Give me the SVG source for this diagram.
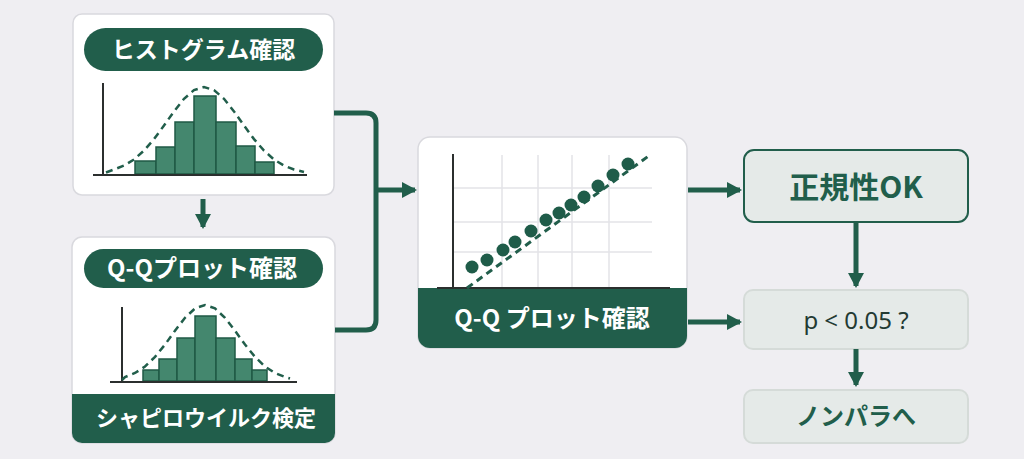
<svg xmlns="http://www.w3.org/2000/svg" width="1024" height="459" viewBox="0 0 1024 459">
<style>
.card{fill:#ffffff;stroke:#d9d9de;stroke-width:1.5}
.dark{fill:#215e4b}
.wt{fill:#ffffff;font-family:"Noto Sans CJK JP","Noto Sans",sans-serif;font-weight:700;text-anchor:middle}
.gt{fill:#215e4b;font-family:"Noto Sans CJK JP","Noto Sans",sans-serif;font-weight:700;text-anchor:middle}
.bar{fill:#44876e;stroke:#1f5a45;stroke-width:1.5}
.axis{stroke:#2b2f2e;stroke-width:2;fill:none}
.curve{fill:none;stroke:#215e4b;stroke-width:2.5;stroke-dasharray:7 5}
.grid{stroke:#e4e4e8;stroke-width:1.5}
.conn{fill:none;stroke:#215e4b;stroke-width:5}
.light{fill:#e5eae8;stroke:#d5dbd8;stroke-width:2}
</style>
<defs>
<marker id="ah" markerUnits="userSpaceOnUse" markerWidth="16" markerHeight="16" refX="13" refY="8" orient="auto">
<path d="M0,0 L15,8 L0,16 Z" fill="#215e4b"/>
</marker>
</defs>
<rect width="1024" height="459" fill="#efeef2"/>

<g id="histogram-card">
<rect class="card" x="73" y="14" width="261" height="181" rx="9"/>
<rect class="dark" x="84" y="28" width="239" height="43" rx="21.5"/>
<text class="wt" x="203.5" y="58" font-size="23">ヒストグラム確認</text>
<rect class="bar" x="135" y="161" width="21" height="13"/>
<rect class="bar" x="156" y="147" width="19" height="27"/>
<rect class="bar" x="175" y="122" width="19" height="52"/>
<rect class="bar" x="194" y="96" width="22" height="78"/>
<rect class="bar" x="216" y="122" width="20" height="52"/>
<rect class="bar" x="236" y="146" width="19" height="28"/>
<rect class="bar" x="255" y="162" width="19" height="12"/>
<path class="axis" d="M103,83 V175 M93,175 H307"/>
<path class="curve" d="M106,172.5 L114,169.5 L124,165.6 L134,159.5 L144,150.6 L154,139.1 L164,125.5 L174,111.4 L184,98.8 L194,90.1 L204,87 L214,90.1 L224,98.8 L234,111.4 L244,125.5 L254,139.1 L264,150.6 L274,159.5 L284,165.6 L294,169.5 L304,172"/>
</g>

<g id="qq-card-left">
<rect class="card" x="72" y="237" width="263" height="206" rx="10"/>
<path class="dark" d="M72,394 H335 V433 A10,10 0 0 1 325,443 H82 A10,10 0 0 1 72,433 Z"/>
<rect class="dark" x="84" y="249" width="239" height="39" rx="19.5"/>
<text class="wt" x="202" y="277" font-size="24">Q-Qプロット確認</text>
<rect class="bar" x="143" y="370" width="16" height="11"/>
<rect class="bar" x="159" y="359" width="18" height="22"/>
<rect class="bar" x="177" y="338" width="18" height="43"/>
<rect class="bar" x="195" y="316" width="21" height="65"/>
<rect class="bar" x="216" y="338" width="19" height="43"/>
<rect class="bar" x="235" y="359" width="17" height="22"/>
<rect class="bar" x="252" y="370" width="15" height="11"/>
<path class="axis" d="M122,307 V382 M110,382 H297"/>
<path class="curve" d="M122,380 L125,377 L135,373 L145,366.5 L155,356.9 L165,344.6 L175,330.7 L185,317.8 L195,308.4 L205,305 L215,308.4 L225,317.8 L235,330.7 L245,344.6 L255,356.9 L265,366.5 L275,373 L285,377 L290,378.5"/>
<text class="wt" x="206" y="426" font-size="22">シャピロウイルク検定</text>
</g>

<g id="qq-card-center">
<rect class="card" x="418" y="137" width="269" height="211" rx="12"/>
<path class="dark" d="M418,288 H687 V336 A12,12 0 0 1 675,348 H430 A12,12 0 0 1 418,336 Z"/>
<path class="grid" d="M502,155 V288 M538,155 V288 M572,155 V288 M609,155 V288 M453,188 H652 M453,222 H652 M453,252 H652"/>
<path class="axis" d="M453,154 V288 M437,288 H670"/>
<path fill="none" stroke="#215e4b" stroke-width="3" stroke-dasharray="7 5" d="M467,288 L650,155"/>
<g fill="#1f5c49">
<circle cx="472" cy="267" r="6.5"/>
<circle cx="487" cy="260" r="6.5"/>
<circle cx="503" cy="250" r="6.5"/>
<circle cx="515" cy="242" r="6.5"/>
<circle cx="531" cy="231" r="6.5"/>
<circle cx="546" cy="220" r="6.5"/>
<circle cx="559" cy="213" r="6.5"/>
<circle cx="571" cy="205" r="6.5"/>
<circle cx="584" cy="197" r="6.5"/>
<circle cx="598" cy="186" r="6.5"/>
<circle cx="613" cy="175" r="6.5"/>
<circle cx="628" cy="164" r="6.5"/>
</g>
<text class="wt" x="552" y="327" font-size="24">Q-Q プロット確認</text>
</g>

<g id="normal-ok">
<rect x="744" y="150" width="224" height="72" rx="10" fill="#e5eae8" stroke="#215e4b" stroke-width="2"/>
<text class="gt" x="856" y="197.5" font-size="30">正規性OK</text>
</g>

<g id="p-value">
<rect class="light" x="744" y="290" width="224" height="59" rx="9"/>
<text x="856" y="328.5" font-size="24" text-anchor="middle" fill="#233a33" font-family="'Noto Sans','Liberation Sans',sans-serif">p &lt; 0.05 ?</text>
</g>

<g id="nonpara">
<rect class="light" x="744" y="390" width="224" height="53" rx="9"/>
<text class="gt" x="856" y="425" font-size="24">ノンパラへ</text>
</g>

<g id="connectors">
<path class="conn" d="M334,113 H366 Q376,113 376,123 V320 Q376,330 366,330 H335"/>
<path class="conn" d="M376,190 H415" marker-end="url(#ah)"/>
<path class="conn" d="M203,199 V227" marker-end="url(#ah)"/>
<path class="conn" d="M688,190 H740" marker-end="url(#ah)"/>
<path class="conn" d="M688,322 H740" marker-end="url(#ah)"/>
<path class="conn" d="M856,222 V286" marker-end="url(#ah)"/>
<path class="conn" d="M856,349 V385" marker-end="url(#ah)"/>
</g>
</svg>
